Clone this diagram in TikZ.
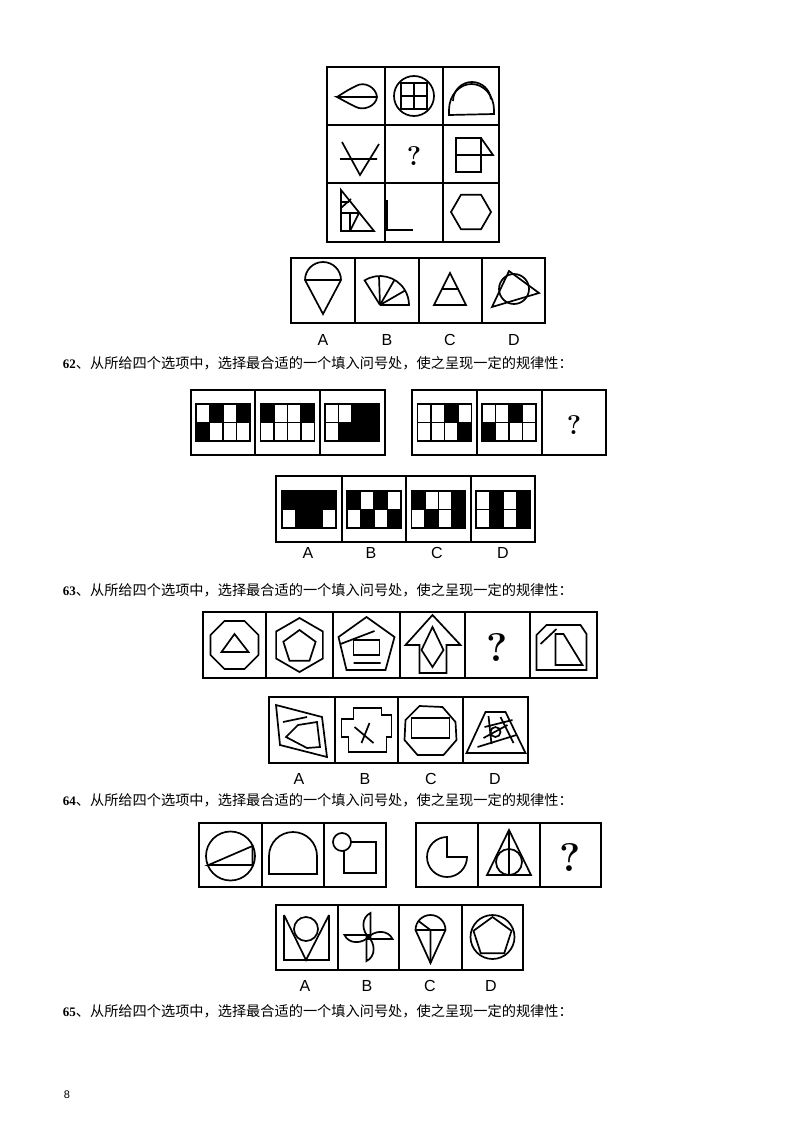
\documentclass[tikz,border=0pt]{standalone}
\usepackage{fontspec}
\usetikzlibrary{calc}
\newfontfamily\cjk{Noto Sans CJK SC}
\newfontfamily\labf{Liberation Sans}
\newfontfamily\numf{Liberation Serif}
\newcommand\bwgrid[3]{%
  \foreach \c/\r in {#3} \fill (#1+\c*13.5,#2+\r*18.5) rectangle ++(13.5,18.5);
  \foreach \i in {0,...,3}{\foreach \j in {0,1}{\draw (#1+\i*13.5,#2+\j*18.5) rectangle ++(13.5,18.5);}}}
\newcommand\qtext[2]{\node[anchor=west,inner sep=0] at (62,#1) {{\numf\bfseries\fontsize{13}{13}\selectfont #2}\cjk\fontsize{14.2}{14.2}\selectfont 、从所给四个选项中，选择最合适的一个填入问号处，使之呈现一定的规律性：};}
\begin{document}
\begin{tikzpicture}[x=1pt,y=-1pt,line width=1.7pt,line join=miter,
  lab/.style={font=\labf\fontsize{16}{16}\selectfont,inner sep=0},
  qm/.style={font=\bfseries\fontsize{27}{27}\selectfont,inner sep=0},
  bigqm/.style={font=\bfseries\fontsize{40}{40}\selectfont,inner sep=0}]
\useasboundingbox[fill=white] (0,0) rectangle (800,1132);
% ================= 61
\draw (327,67) rectangle (499,242);
\draw (385,67)--(385,242) (443,67)--(443,242) (327,125)--(499,125) (327,183)--(499,183);
\begin{scope}[shift={(356,96)}]
\draw (-19,1) .. controls (-8,-6) .. (0,-10) .. controls (8,-15) and (20,-9) .. (21,1) .. controls (20,10) and (8,15) .. (0,11) .. controls (-8,7) .. (-19,1) -- (21,1);
\end{scope}
\begin{scope}[shift={(414,96)}]
\draw (0,0) circle (20); \draw (-13,-13) rectangle (13,13); \draw (0,-13)--(0,13) (-13,0)--(13,0);
\end{scope}
\begin{scope}[shift={(471,96)}]
\draw (-22,19) -- (-22,14) arc[start angle=180,end angle=360,x radius=22.5,y radius=26] -- (23,18) -- cycle;
\draw (-18,5) arc[start angle=180,end angle=355,x radius=19,y radius=19];
\end{scope}
\begin{scope}[shift={(356,154)}]
\draw (-14,-12)--(4,21)--(23,-10) (-16,5)--(21,5);
\end{scope}
\node[qm] at (414,156) {?};
\begin{scope}[shift={(471,154)}]
\draw (-15,-16) rectangle (10,18); \draw (-15,1)--(10,1); \draw (10,-16)--(22,1)--(10,1);
\end{scope}
\begin{scope}[shift={(356,212)}]
\draw (-15,-22)--(-15,19)--(18,19)--cycle;
\draw (-15,-10)--(-7,-10) (-15,1)--(3,1) (-15,-4)--(-5,-13) (-6,19)--(3,1) (-6,1)--(-6,19);
\end{scope}
\begin{scope}[shift={(401,212)}]
\draw (-14,-12)--(-14,18)--(12,18);
\end{scope}
\begin{scope}[shift={(471,212)}]
\draw (0:20) \foreach \a in {60,120,...,300}{--(\a:20)} -- cycle;
\end{scope}
\draw (291,258) rectangle (545,323);
\draw (355,258)--(355,323) (419,258)--(419,323) (482,258)--(482,323);
\begin{scope}[shift={(323,290)}]
\draw (-18,-10) arc[start angle=180,end angle=360,radius=18] -- (0,24) -- cycle;
\draw (-18,-10)--(18,-10);
\end{scope}
\begin{scope}[shift={(387,290)}]
\draw (-7,15) -- ++(-122:29) arc[start angle=-122,end angle=0,radius=29] -- (-7,15);
\draw (-7,15)--++(-92:29) (-7,15)--++(-60:29) (-7,15)--++(-30:29);
\end{scope}
\begin{scope}[shift={(450,290)}]
\draw (0,-17)--(16,15)--(-16,15)--cycle; \draw (-8.5,-1)--(8.5,-1);
\end{scope}
\begin{scope}[shift={(514,290)}]
\draw (0,-1) circle (15); \draw (-22,17)--(25,3)--(-5,-19)--cycle;
\end{scope}
\node[lab] at (323,340) {A}; \node[lab] at (387,340) {B}; \node[lab] at (450,340) {C}; \node[lab] at (514,340) {D};
% ================= 62
\qtext{363}{62}
\draw (191,390) rectangle (385,455); \draw (255,390)--(255,455) (320,390)--(320,455);
\draw (412,390) rectangle (606,455); \draw (477,390)--(477,455) (542,390)--(542,455);
\bwgrid{196}{404}{1/0,3/0,0/1}
\bwgrid{260.5}{404}{0/0,3/0}
\bwgrid{325}{404}{2/0,3/0,1/1,2/1,3/1}
\bwgrid{417.5}{404}{2/0,3/1}
\bwgrid{482}{404}{2/0,0/1}
\node[qm] at (574,425) {?};
\draw (276,476) rectangle (535,542);
\draw (342,476)--(342,542) (406,476)--(406,542) (471,476)--(471,542);
\bwgrid{282}{491}{0/0,1/0,2/0,3/0,1/1,2/1}
\bwgrid{347}{491}{0/0,2/0,1/1,3/1}
\bwgrid{411.5}{491}{0/0,3/0,1/1,3/1}
\bwgrid{476}{491}{1/0,3/0,1/1,3/1}
\node[lab] at (308,553) {A}; \node[lab] at (371,553) {B}; \node[lab] at (437,553) {C}; \node[lab] at (503,553) {D};
% ================= 63
\qtext{590}{63}
\draw (203,612) rectangle (597,678);
\foreach \x in {266,333,400,465,530} \draw (\x,612)--(\x,678);
\begin{scope}[shift={(234.5,645)}]
\draw (22.5:26) \foreach \a in {67.5,112.5,...,337.5}{--(\a:26)} -- cycle;
\draw (-13,7)--(14,7)--(0,-11)--cycle;
\end{scope}
\begin{scope}[shift={(299.5,645)}]
\draw (90:27) \foreach \a in {150,210,...,450}{--(\a:27)} -- cycle;
\draw ($(0,2)+(-90:17)$) \foreach \a in {-18,54,126,198}{--($(0,2)+(\a:17)$)} -- cycle;
\end{scope}
\begin{scope}[shift={(366.5,645)}]
\draw (0,-28)--(28,-8)--(19,25)--(-20,25)--(-28,-8)--cycle;
\draw (-26,-1)--(8,-14) (-13,18)--(14,18); \draw (-13,-5) rectangle (13,10);
\end{scope}
\begin{scope}[shift={(432.5,645)}]
\draw (0,-30)--(28,0)--(14,0)--(14,28)--(-13,28)--(-13,0)--(-27,0)--cycle;
\draw (0,-18)--(11,5)--(0,22)--(-11,5)--cycle;
\end{scope}
\node[bigqm] at (497.5,647) {?};
\begin{scope}[shift={(563.5,645)}]
\draw (-27,25)--(-27,-10)--(-17,-20)--(17,-20)--(23,-11)--(23,25)--cycle;
\draw (-23,-1)--(-7,-16); \draw (-8,20)--(-8,-11)--(0,-11)--(19,20)--cycle;
\end{scope}
\draw (269,697) rectangle (528,763);
\foreach \x in {335,398,463} \draw (\x,697)--(\x,763);
\begin{scope}[shift={(302,730)}]
\draw (-26,-25)--(20,-13)--(25,27)--(-22,15)--cycle;
\draw (-19,-8)--(5,-13); \draw (-4,-5)--(15,-8)--(18,17)--(5,18)--(-16,7)--cycle;
\end{scope}
\begin{scope}[shift={(366.5,730)}]
\draw (-13,-22)--(15,-22)--(15,-15)--(25,-15)--(25,7)--(20,7)--(20,22)--(-18,22)--(-18,7)--(-25,7)--(-25,-11)--(-13,-11)--cycle;
\draw (-12,-3)--(7,13) (3,-7)--(-5,13);
\end{scope}
\begin{scope}[shift={(430.5,730)}]
\draw (-11,-24)--(12,-23)--(25,-8)--(26,10)--(13,25)--(-13,25)--(-26,10)--(-25,-10)--cycle;
\draw (-19,-12) rectangle (19,8);
\end{scope}
\begin{scope}[shift={(495.5,730)}]
\draw (-10,-18)--(10,-18)--(30,23)--(-29,23)--cycle;
\draw (0,2) circle (5);
\draw (-11,-3)--(17,-10) (-18,17)--(21,5) (-7,-14)--(-4,14) (5,-13)--(18,13) (-12,8)--(12,-5);
\end{scope}
\node[lab] at (299,779) {A}; \node[lab] at (365,779) {B}; \node[lab] at (431,779) {C}; \node[lab] at (495,779) {D};
% ================= 64
\qtext{800}{64}
\draw (199,823) rectangle (386,887); \draw (262,823)--(262,887) (324,823)--(324,887);
\draw (416,823) rectangle (601,887); \draw (478,823)--(478,887) (540,823)--(540,887);
\begin{scope}[shift={(230.5,856)}]
\draw (0,0) circle (24.5); \draw (-22,9)--(22,9)--(22,-10)--cycle;
\end{scope}
\begin{scope}[shift={(293,855)}]
\draw (-24,19)--(-24,1) arc[start angle=180,end angle=360,radius=24] -- (24,19) -- cycle;
\end{scope}
\begin{scope}[shift={(355,855)}]
\draw (-11,-13) rectangle (21,18); \draw[fill=white] (-13,-13) circle (9);
\end{scope}
\begin{scope}[shift={(447,857)}]
\draw (20,0) arc[start angle=0,end angle=270,radius=20] -- (0,0) -- cycle;
\end{scope}
\begin{scope}[shift={(509,855)}]
\draw (0,-25)--(22,20)--(-22,20)--cycle; \draw (0,7) circle (13); \draw (0,-25)--(0,20);
\end{scope}
\node[bigqm] at (570.5,857) {?};
\draw (276,905) rectangle (523,970);
\foreach \x in {338,399,462} \draw (\x,905)--(\x,970);
\begin{scope}[shift={(307,937)}]
\draw (-23,-22)--(-23,23)--(22,23)--(22,-22); \draw (-23,-22)--(-1,23)--(22,-22);
\draw[fill=white] (-1,-8) circle (12);
\end{scope}
\begin{scope}[shift={(368.5,937)}]
\foreach \r in {0,90,180,270}{
\draw[rotate=\r] (2,2)--(2,-24) .. controls (-7,-20) and (-8,-6) .. (2,2);}
\end{scope}
\begin{scope}[shift={(430.5,937)}]
\draw (-15,-7) arc[start angle=180,end angle=360,radius=15] -- (0,26) -- cycle;
\draw (-15,-7)--(15,-7);
\draw (-12,-16)--(0,-7)--(0,26);
\end{scope}
\begin{scope}[shift={(492.5,937)}]
\draw (0,0) circle (22); \draw (-90:20) \foreach \a in {-18,54,126,198}{--(\a:20)} -- cycle;
\end{scope}
\node[lab] at (305,986) {A}; \node[lab] at (367,986) {B}; \node[lab] at (430,986) {C}; \node[lab] at (491,986) {D};
% ================= 65
\qtext{1011}{65}
\node[font=\labf\fontsize{11}{11}\selectfont,inner sep=0] at (67,1095) {8};
\end{tikzpicture}
\end{document}
